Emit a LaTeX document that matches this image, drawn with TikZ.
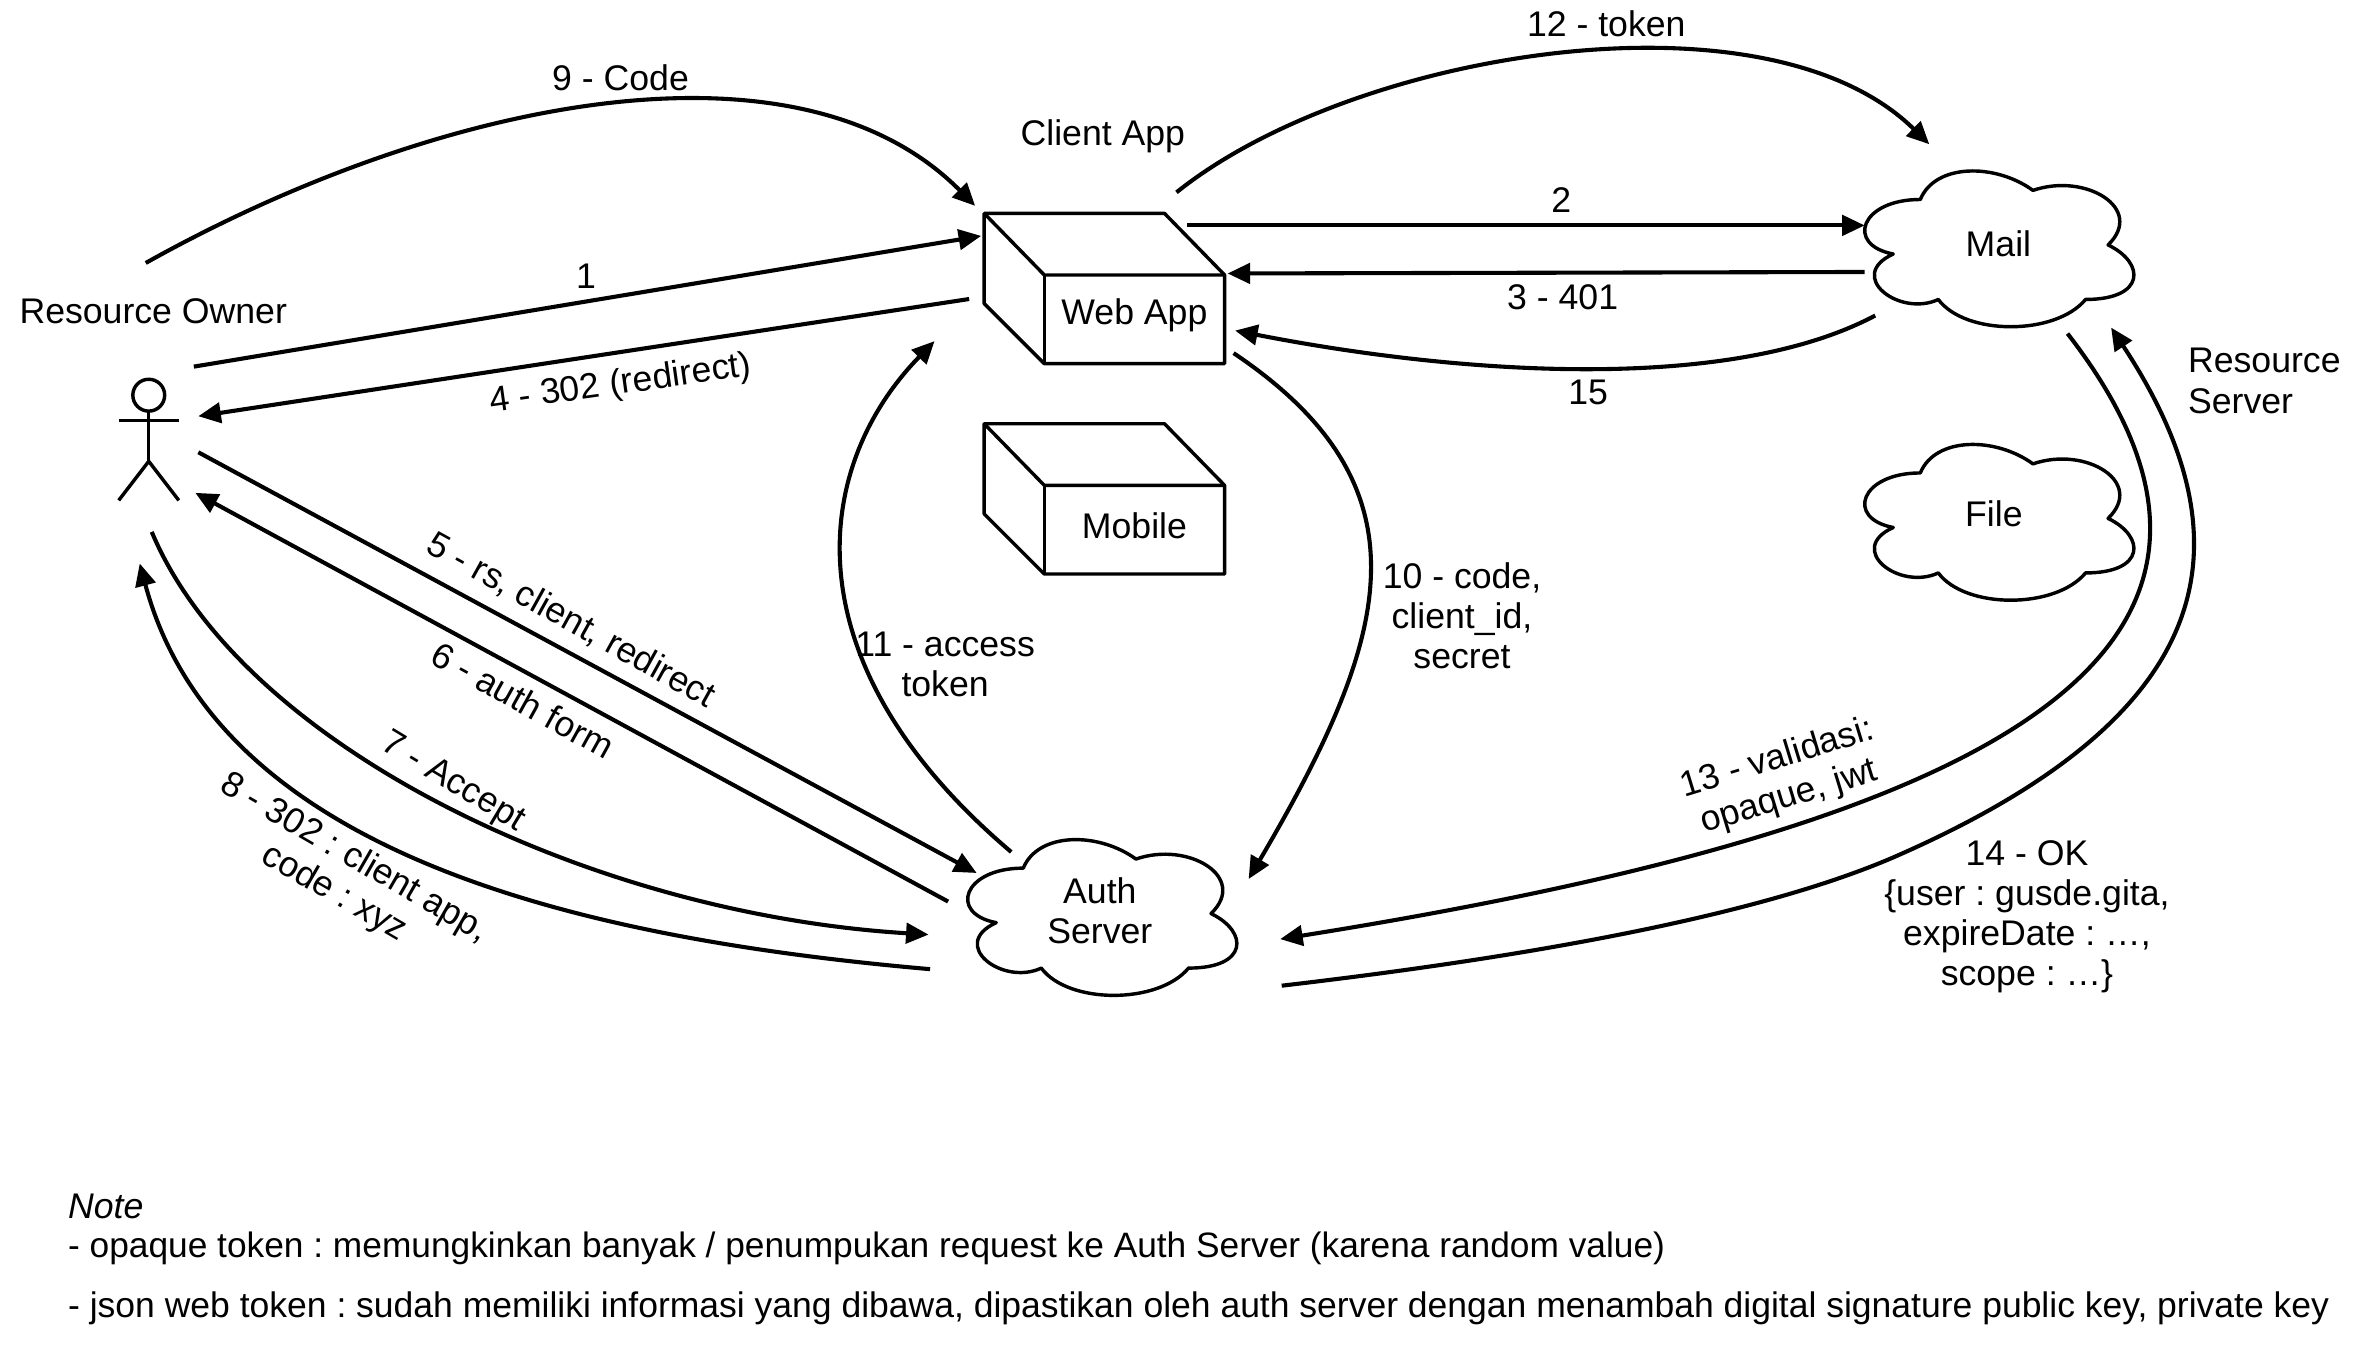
\documentclass[tikz,border=0pt]{standalone}
\usepackage{fontspec}
\setmainfont{Liberation Sans}
\usetikzlibrary{arrows.meta, positioning}
\frenchspacing
\tikzset{
  lbl/.style={font=\fontsize{13.5}{15.2}\selectfont, align=center, inner sep=0pt},
  flow/.style={line width=1.55pt, -{Triangle[length=0.3cm, width=0.27cm]}},
  shapeline/.style={line width=1.3pt, line join=round},
  cloudshape/.pic={
    \draw[shapeline, x=4.0cm, y=-2.42cm, fill=white]
      (-.25,-.25) .. controls (-.45,-.25) and (-.5,0) .. (-.34,.05)
      .. controls (-.5,.17) and (-.32,.4) .. (-.19,.3)
      .. controls (-.1,.5) and (.2,.5) .. (.3,.3)
      .. controls (.5,.3) and (.5,.1) .. (.375,0)
      .. controls (.5,-.2) and (.3,-.4) .. (.125,-.3)
      .. controls (0,-.45) and (-.2,-.45) .. cycle;
  }
}
\begin{document}
\begin{tikzpicture}[x=0.02cm, y=-0.02cm]
  \useasboundingbox (0,0) rectangle (1568,895.8);
  % Connector ends
  \foreach \cname/\xx/\yy in
    {s1/129/244, e1/653/157, s2/790/150, e2/1241/150, s3/1241/181, e3/817/182,
     s4/645/199, e4/132/277, s5/132/301, e5/650/581, s6/631/600, e6/130/328,
     s7/101/354, e7/618/622, s8/619/645, e8/93/375, s9/97/175, e9/649/137,
     s10/821/235, e10/831/585, s11/673/567, e11/622/227, s12/783/128, e12/1284/96,
     s13/1376/222, e13/852/625, s14/853/656, m14/1266/568, e14/1405/218, s15/1248/210, e15/822/220} {
    \coordinate (\cname) at (\xx,\yy);
  }
  % Resource owner
  \node[lbl] (owner) at (102,207) {Resource Owner};
  \coordinate (neck) at (99,274);
  \coordinate (hip) at (99,307);
  \draw[shapeline] (99,263) circle (10.6);
  \draw[shapeline] (neck) -- (hip);
  \draw[shapeline] (79,280) -- (119,280);
  \draw[shapeline] (79,333) -- (hip) -- (119,333);
  % Client app boxes
  \node[lbl] (clientapp) at (734,91) {Client App};
  \foreach \yy/\ctext/\cname in {142/Web App/webapp, 282/Mobile/mobile} {
    \draw[shapeline] (655,\yy) -- (775,\yy) -- (815,\yy+41) -- (815,\yy+100)
      -- (695,\yy+100) -- (655,\yy+60) -- cycle;
    \draw[shapeline] (655,\yy) -- (695,\yy+41) -- (815,\yy+41);
    \draw[shapeline] (695,\yy+41) -- (695,\yy+100);
    \node[lbl] (\cname) at (755,\yy+68) {\ctext};
  }
  % Clouds
  \pic at (1328,163) {cloudshape};
  \pic at (1328,345) {cloudshape};
  \pic at (731,608) {cloudshape};
  \node[lbl] (mail) at (1330,162) {Mail};
  \node[lbl] (file) at (1327,342) {File};
  \node[lbl] (auth) at (732,606) {Auth\\Server};
  \node[lbl, align=left] (resserver) at (1507,253.5) {Resource\\Server};
  % Straight connectors
  \draw[flow] (s1) -- (e1);
  \draw[flow] (s2) -- (e2);
  \draw[flow] (s3) -- (e3);
  \draw[flow] (s4) -- (e4);
  \draw[flow] (s5) -- (e5);
  \draw[flow] (s6) -- (e6);
  % Curved connectors
  \draw[flow] (s7) .. controls (160,495) and (390,608) .. (e7);
  \draw[flow] (s8) .. controls (390,625) and (145,570) .. (e8);
  \draw[flow] (s9) .. controls (290,67) and (530,17) .. (e9);
  \draw[flow] (s10) .. controls (955,325) and (925,425) .. (e10);
  \draw[flow] (s11) .. controls (523,440) and (541,310) .. (e11);
  \draw[flow] (s12) .. controls (900,34) and (1175,-11) .. (e12);
  \draw[flow] (s13) .. controls (1545,440) and (1310,552) .. (e13);
  \draw[flow] (s14) .. controls (990,640) and (1166,613) .. (m14)
    .. controls (1466,479) and (1505,370) .. (e14);
  \draw[flow] (s15) .. controls (1150,262) and (970,249) .. (e15);
  % Connector labels
  \node[lbl] (t1) at (390,184) {1};
  \node[lbl] (t2) at (1039,133) {2};
  \node[lbl] (t3) at (1040,198) {3 - 401};
  \node[lbl, rotate=8] (t4) at (413,256) {4 - 302 (redirect)};
  \node[lbl, rotate=-29] (t5) at (380,413) {5 - rs, client, redirect};
  \node[lbl, rotate=-29] (t6) at (348,466) {6 - auth form};
  \node[lbl, rotate=-31] (t7) at (301,521) {7 - Accept};
  \node[lbl, rotate=-30] (t8) at (229,583) {8 - 302 : client app,\\code : xyz};
  \node[lbl] (t9) at (413,52) {9 - Code};
  \node[lbl] (t10) at (973,410) {10 - code,\\client\_id,\\secret};
  \node[lbl] (t11) at (629,442) {11 - access\\token};
  \node[lbl] (t12) at (1069,16) {12 - token};
  \node[lbl, rotate=17] (t13) at (1187,518) {13 - validasi:\\opaque, jwt};
  \node[lbl] (t14) at (1349,610) {14 - OK\\\{user : gusde.gita,\\expireDate : …,\\scope : …\}};
  \node[lbl] (t15) at (1057,261) {15};
  % Note
  \node[lbl, anchor=west] (note) at (45,803) {\itshape Note};
  \node[lbl, anchor=west, font=\fontsize{13.37}{15.2}\selectfont] (note1) at (45,831) {- opaque token : memungkinkan banyak / penumpukan request ke Auth Server (karena random value)};
  \node[lbl, anchor=west, font=\fontsize{13.45}{15.2}\selectfont] (note2) at (45,871) {- json web token : sudah memiliki informasi yang dibawa, dipastikan oleh auth server dengan menambah digital signature public key, private key};
\end{tikzpicture}
\end{document}
